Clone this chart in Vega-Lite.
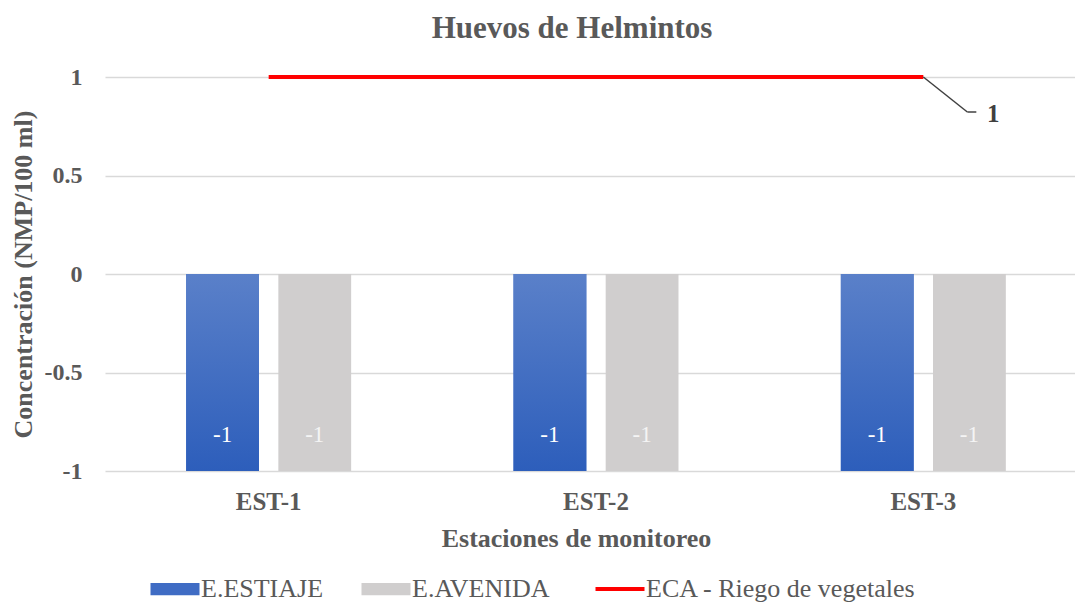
{
  "$schema": "https://vega.github.io/schema/vega-lite/v6.json",
  "width": 970,
  "height": 394,
  "autosize": {"type": "none"},
  "padding": {"left": 105, "top": 77, "right": 0, "bottom": 131},
  "background": "#ffffff",
  "title": {
    "text": "Huevos de Helmintos",
    "font": "Liberation Serif",
    "fontSize": 31,
    "fontWeight": "bold",
    "color": "#595959",
    "anchor": "middle",
    "frame": "group",
    "dx": -18,
    "baseline": "alphabetic",
    "offset": -4
  },
  "datasets": {
    "bars": [
      {"estacion": "EST-1", "serie": "E.ESTIAJE", "valor": -1},
      {"estacion": "EST-1", "serie": "E.AVENIDA", "valor": -1},
      {"estacion": "EST-2", "serie": "E.ESTIAJE", "valor": -1},
      {"estacion": "EST-2", "serie": "E.AVENIDA", "valor": -1},
      {"estacion": "EST-3", "serie": "E.ESTIAJE", "valor": -1},
      {"estacion": "EST-3", "serie": "E.AVENIDA", "valor": -1}
    ],
    "eca": [
      {"estacion": "EST-1", "serie": "ECA - Riego de vegetales", "valor": 1},
      {"estacion": "EST-2", "serie": "ECA - Riego de vegetales", "valor": 1},
      {"estacion": "EST-3", "serie": "ECA - Riego de vegetales", "valor": 1}
    ],
    "etiqueta": [
      {"estacion": "EST-3", "valor": 1}
    ]
  },
  "encoding": {
    "x": {
      "field": "estacion",
      "type": "nominal",
      "sort": ["EST-1", "EST-2", "EST-3"],
      "scale": {"range": [0, 982], "paddingInner": 0.496, "paddingOuter": 0.248},
      "axis": {
        "title": "Estaciones de monitoreo",
        "labelAngle": 0,
        "domain": false,
        "ticks": false,
        "grid": false,
        "labelFont": "Liberation Serif",
        "labelFontSize": 25,
        "labelFontWeight": "bold",
        "labelColor": "#595959",
        "labelPadding": 18,
        "titleFont": "Liberation Serif",
        "titleFontSize": 26,
        "titleFontWeight": "bold",
        "titleColor": "#595959",
        "titleX": 471,
        "titleY": 67,
        "titleAlign": "center",
        "titleBaseline": "middle"
      }
    },
    "y": {
      "field": "valor",
      "type": "quantitative",
      "scale": {"domain": [-1, 1], "nice": false, "zero": true},
      "axis": {
        "title": "Concentración (NMP/100 ml)",
        "values": [-1, -0.5, 0, 0.5, 1],
        "labelExpr": "'' + datum.value",
        "domain": false,
        "ticks": false,
        "grid": true,
        "gridColor": "#d9d9d9",
        "gridWidth": 1.3,
        "labelFont": "Liberation Serif",
        "labelFontSize": 24,
        "labelFontWeight": "bold",
        "labelColor": "#595959",
        "labelPadding": 23,
        "titleFont": "Liberation Serif",
        "titleFontSize": 26,
        "titleFontWeight": "bold",
        "titleColor": "#595959",
        "titleAngle": -90,
        "titleX": -82,
        "titleY": 197,
        "titleAlign": "center",
        "titleBaseline": "middle"
      }
    }
  },
  "layer": [
    {
      "data": {"name": "bars"},
      "mark": {"type": "bar"},
      "encoding": {
        "xOffset": {
          "field": "serie",
          "type": "nominal",
          "sort": ["E.ESTIAJE", "E.AVENIDA"],
          "scale": {"paddingInner": 0.21, "paddingOuter": 0}
        },
        "color": {
          "field": "serie",
          "type": "nominal",
          "scale": {
            "domain": ["E.ESTIAJE", "E.AVENIDA", "ECA - Riego de vegetales"],
            "range": ["#3f6cc4", "#d0cece", "#ff0000"]
          },
          "legend": {
            "title": null,
            "orient": "none",
            "legendX": 57,
            "legendY": 499,
            "direction": "horizontal",
            "columnPadding": 37,
            "padding": 0,
            "labelFont": "Liberation Serif",
            "labelFontSize": 26,
            "labelColor": "#595959",
            "labelOffset": 13,
            "labelLimit": 400,
            "symbolSize": 2401,
            "encode": {
              "symbols": {
                "update": {
                  "shape": {"signal": "datum.value === 'ECA - Riego de vegetales' ? 'stroke' : 'M-1,-0.25H1V0.25H-1Z'"},
                  "fill": {"signal": "datum.value === 'ECA - Riego de vegetales' ? 'transparent' : (datum.value === 'E.ESTIAJE' ? '#3f6cc4' : '#d0cece')"},
                  "stroke": {"signal": "datum.value === 'ECA - Riego de vegetales' ? '#ff0000' : 'transparent'"},
                  "strokeWidth": {"signal": "datum.value === 'ECA - Riego de vegetales' ? 4 : 0"},
                  "opacity": {"value": 1},
                  "fillOpacity": {"value": 1},
                  "strokeOpacity": {"value": 1}
                }
              },
              "labels": {
                "update": {
                  "font": {"value": "Liberation Serif"}
                }
              }
            }
          }
        }
      }
    },
    {
      "data": {"name": "bars"},
      "transform": [{"filter": "datum.serie === 'E.ESTIAJE'"}],
      "mark": {
        "type": "bar",
        "color": {
          "gradient": "linear",
          "x1": 0, "y1": 0, "x2": 0, "y2": 1,
          "stops": [
            {"offset": 0, "color": "#5a80c9"},
            {"offset": 1, "color": "#2d5ebb"}
          ]
        }
      },
      "encoding": {
        "xOffset": {"field": "serie", "type": "nominal", "sort": ["E.ESTIAJE", "E.AVENIDA"]}
      }
    },
    {
      "data": {"name": "bars"},
      "mark": {
        "type": "text",
        "font": "Liberation Serif",
        "fontSize": 23,
        "baseline": "middle",
        "align": "center",
        "dy": -36
      },
      "encoding": {
        "xOffset": {"field": "serie", "type": "nominal", "sort": ["E.ESTIAJE", "E.AVENIDA"]},
        "text": {"field": "valor", "type": "nominal"},
        "fill": {
          "condition": {"test": "datum.serie === 'E.AVENIDA'", "value": "#f4f4f4"},
          "value": "#ffffff"
        }
      }
    },
    {
      "data": {"name": "eca"},
      "mark": {"type": "line", "strokeWidth": 4},
      "encoding": {
        "color": {"field": "serie", "type": "nominal"}
      }
    },
    {
      "data": {"name": "etiqueta"},
      "mark": {"type": "rule", "color": "#404040", "strokeWidth": 1.5, "x2Offset": 44, "y2Offset": 35},
      "encoding": {
        "x2": {"field": "estacion"},
        "y2": {"field": "valor"}
      }
    },
    {
      "data": {"name": "etiqueta"},
      "mark": {"type": "rule", "color": "#404040", "strokeWidth": 1.5, "xOffset": 44, "x2Offset": 53, "yOffset": 35, "y2Offset": 35},
      "encoding": {
        "x2": {"field": "estacion"},
        "y2": {"field": "valor"}
      }
    },
    {
      "data": {"name": "etiqueta"},
      "mark": {
        "type": "text",
        "font": "Liberation Serif",
        "fontSize": 25,
        "fontWeight": "bold",
        "color": "#404040",
        "align": "center",
        "baseline": "middle",
        "dx": 70,
        "dy": 37
      },
      "encoding": {
        "text": {"field": "valor", "type": "nominal"}
      }
    }
  ],
  "config": {
    "view": {"stroke": null},
    "legend": {"labelFont": "Liberation Serif"}
  }
}
